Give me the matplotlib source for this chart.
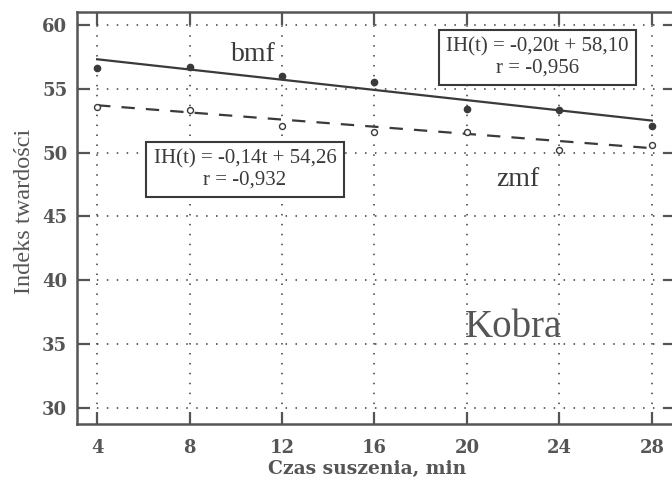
import matplotlib.pyplot as plt

# Data
t = [4, 8, 12, 16, 20, 24, 28]
bmf = [56.6, 56.7, 56.0, 55.5, 53.4, 53.3, 52.1]
zmf = [53.6, 53.3, 52.1, 51.6, 51.6, 50.2, 50.6]

bmf_fit = (-0.20, 58.10)
zmf_fit = (-0.14, 54.26)

xticks = [4, 8, 12, 16, 20, 24, 28]
yticks = [30, 35, 40, 45, 50, 55, 60]

ink = '#3a3a3a'
soft = '#555555'

fig = plt.figure(figsize=(6.72, 4.8), dpi=100)
ax = fig.add_axes([77 / 672, 56 / 480, 598 / 672, 412 / 480])

# regression lines
fx = [t[0], t[-1]]
ax.plot(fx, [bmf_fit[0] * x + bmf_fit[1] for x in fx], color=ink, lw=1.6)
ax.plot(fx, [zmf_fit[0] * x + zmf_fit[1] for x in fx], color=ink, lw=1.6,
        linestyle=(0, (6, 5)))

# measured points
ax.plot(t, bmf, 'o', color=ink, ms=4.5, ls='none')
ax.plot(t, zmf, 'o', mfc='white', mec=ink, mew=1.0, ms=4.3, ls='none')

ax.set_xlim(3.13, 29.0)
ax.set_ylim(28.75, 61.0)
ax.set_xticks(xticks)
ax.set_yticks(yticks)
ax.grid(True, linestyle=(0, (1, 5.5)), color=ink, linewidth=1.1)

ax.tick_params(direction='in', length=9, width=1.6, colors=soft,
               top=True, right=True, labelsize=13)
for lab in ax.get_xticklabels() + ax.get_yticklabels():
    lab.set_fontfamily('DejaVu Serif')
    lab.set_fontweight('bold')
    lab.set_color(soft)
ax.tick_params(axis='x', pad=11)
ax.tick_params(axis='y', pad=7)

for s in ax.spines.values():
    s.set_color(soft)
    s.set_linewidth(1.8)

ax.set_xlabel('Czas suszenia, min', fontfamily='DejaVu Serif',
              fontweight='bold', fontsize=13.5, color=soft)
ax.xaxis.set_label_coords((367 - 77) / 598, -0.088)
ax.set_ylabel('Indeks twardości', fontfamily='Liberation Serif',
              fontsize=17.5, color=soft)
ax.yaxis.set_label_coords(-0.071, 0.515)

box = dict(boxstyle='square,pad=0.35', fc='white', ec=ink, lw=1.5)
ax.text(23.05, 57.45, 'IH(t) = -0,20t + 58,10\nr = -0,956',
        ha='center', va='center', fontfamily='Liberation Serif',
        fontsize=15, color=ink, bbox=box, linespacing=1.15)
ax.text(10.4, 48.65, 'IH(t) = -0,14t + 54,26\nr = -0,932',
        ha='center', va='center', fontfamily='Liberation Serif',
        fontsize=15, color=ink, bbox=box, linespacing=1.15)

ax.text(10.75, 57.7, 'bmf', ha='center', va='center',
        fontfamily='Liberation Serif', fontsize=20, color=ink)
ax.text(22.2, 47.9, 'zmf', ha='center', va='center',
        fontfamily='Liberation Serif', fontsize=20, color=ink)
ax.text(22.0, 36.3, 'Kobra', ha='center', va='center',
        fontfamily='Liberation Serif', fontsize=28, color=soft)

fig.savefig('out.png', dpi=100)
